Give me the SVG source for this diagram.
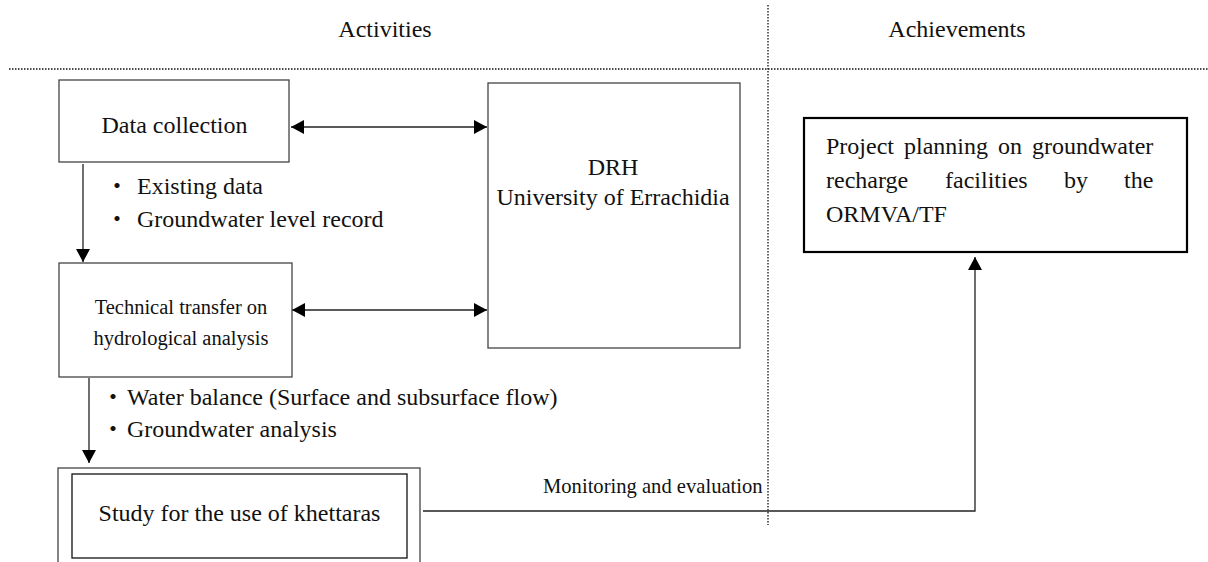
<svg xmlns="http://www.w3.org/2000/svg" width="1208" height="562" viewBox="0 0 1208 562">
<style>
text{font-family:"Liberation Serif","Noto Sans CJK JP",serif;fill:#111;font-size:24px}
.c{text-anchor:middle}
.box{fill:#fff;stroke:#444;stroke-width:1.3}
.bk{fill:none;stroke:#111;stroke-width:1.3}
.thick{fill:#fff;stroke:#000;stroke-width:2.2}
.dot{stroke:#111;stroke-width:1.3;stroke-dasharray:1.5 1.5;fill:none}
.con{stroke:#222;stroke-width:1.3;fill:none}
</style>
<defs>
<marker id="ah" viewBox="0 0 13 14" refX="13" refY="7" markerWidth="13" markerHeight="14" markerUnits="userSpaceOnUse" orient="auto-start-reverse">
<path d="M0,0 L13,7 L0,14 Z" fill="#000"/>
</marker>
</defs>
<rect width="1208" height="562" fill="#fff"/>
<g id="frame">
<line class="dot" x1="9" y1="69" x2="1208" y2="69"/>
<line class="dot" x1="768" y1="5" x2="768" y2="525"/>
<text class="c" x="385" y="37">Activities</text>
<text class="c" x="957" y="37">Achievements</text>
</g>
<g id="connectors">
<line class="con" x1="291" y1="127" x2="487" y2="127" marker-start="url(#ah)" marker-end="url(#ah)"/>
<line class="con" x1="292" y1="310" x2="487" y2="310" marker-start="url(#ah)" marker-end="url(#ah)"/>
<line class="con" x1="83" y1="164" x2="83" y2="262" marker-end="url(#ah)"/>
<line class="con" x1="89" y1="378" x2="89" y2="463" marker-end="url(#ah)"/>
<polyline class="con" points="423,511 975,511 975,257" marker-end="url(#ah)"/>
<text x="543" y="493" style="font-size:20.6px">Monitoring and evaluation</text>
</g>
<g id="data-collection">
<rect class="box" x="59" y="80" width="230" height="82"/>
<text class="c" x="174.5" y="133">Data collection</text>
</g>
<g id="data-notes">
<text y="194"><tspan x="105">・</tspan><tspan x="137">Existing data</tspan></text>
<text y="227"><tspan x="105">・</tspan><tspan x="137">Groundwater level record</tspan></text>
</g>
<g id="technical-transfer">
<rect class="box" x="59" y="263" width="233" height="114"/>
<text class="c" x="181" y="314" style="font-size:20.5px">Technical transfer on</text>
<text class="c" x="181" y="345" style="font-size:20.5px">hydrological analysis</text>
</g>
<g id="analysis-notes">
<text y="405"><tspan x="101">・</tspan><tspan x="127">Water balance (Surface and subsurface flow)</tspan></text>
<text y="437"><tspan x="101">・</tspan><tspan x="127">Groundwater analysis</tspan></text>
</g>
<g id="drh">
<rect class="box" x="488" y="83" width="252" height="265"/>
<text class="c" x="613" y="175">DRH</text>
<text class="c" x="613" y="205">University of Errachidia</text>
</g>
<g id="study">
<rect class="box" x="58" y="468" width="362" height="110"/>
<rect class="bk" x="72" y="474" width="335" height="84"/>
<text class="c" x="239.5" y="521">Study for the use of khettaras</text>
</g>
<g id="project-planning">
<rect class="thick" x="804" y="118" width="383" height="134"/>
<text y="154"><tspan x="826">Project</tspan><tspan x="904">planning</tspan><tspan x="998">on</tspan><tspan x="1032">groundwater</tspan></text>
<text y="188"><tspan x="826">recharge</tspan><tspan x="945">facilities</tspan><tspan x="1064">by</tspan><tspan x="1124">the</tspan></text>
<text x="826" y="222">ORMVA/TF</text>
</g>
</svg>
